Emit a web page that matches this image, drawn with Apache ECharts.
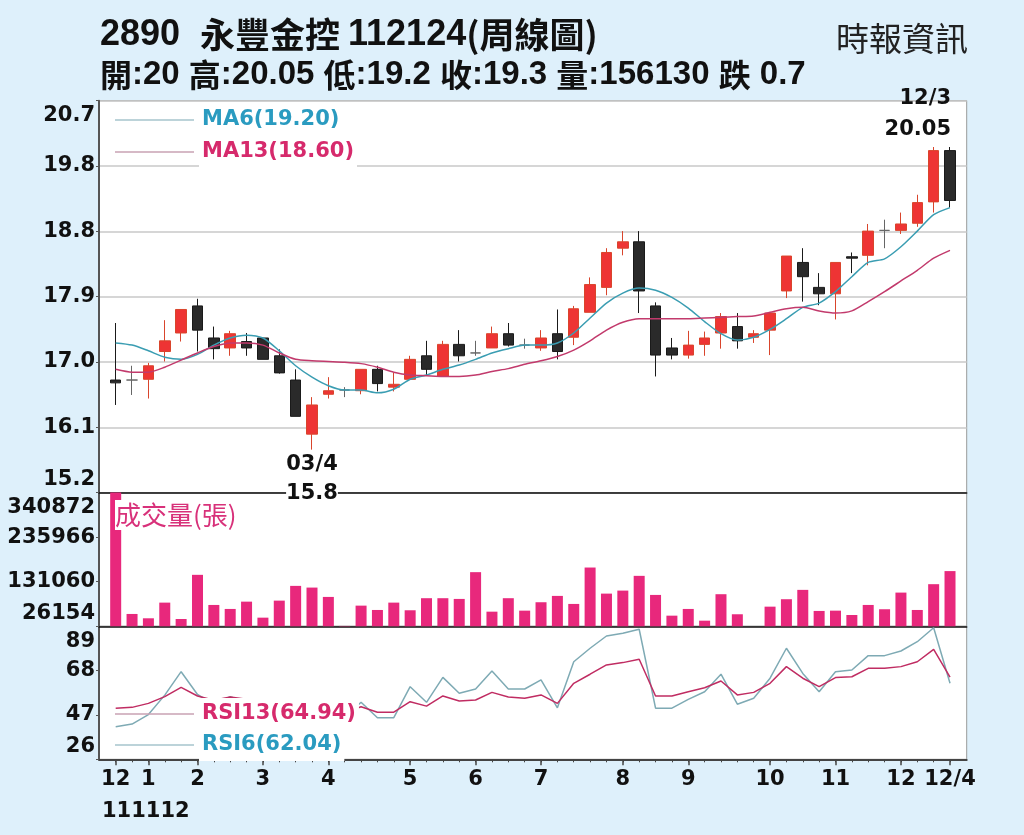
<!DOCTYPE html>
<html><head><meta charset="utf-8">
<script src="https://cdn.jsdelivr.net/npm/echarts@6/dist/echarts.min.js"></script>
<style>html,body{margin:0;padding:0;background:#def0fb;}#c{width:1024px;height:835px;}</style>
</head><body><div id="c"></div>
<script>
// ---- data (weekly bars, index 0 = first week shown) ----
const ohlc = [ // [open, close, low, high]
[16.78,16.74,16.43,17.58],[16.78,16.78,16.57,16.98],[16.79,16.98,16.52,17.02],[17.18,17.33,17.04,17.62],
[17.44,17.77,17.32,17.77],[17.82,17.48,17.18,17.92],[17.37,17.22,17.07,17.53],[17.23,17.43,17.12,17.47],
[17.32,17.23,17.12,17.44],[17.37,17.07,17.07,17.38],[17.12,16.88,16.87,17.21],[16.78,16.27,16.27,16.93],
[16.02,16.43,15.80,16.54],[16.58,16.63,16.52,16.82],[16.64,16.64,16.54,16.68],[16.63,16.93,16.58,16.93],
[16.93,16.73,16.62,16.98],[16.68,16.72,16.62,16.88],[16.79,17.07,16.79,17.12],[17.12,16.93,16.84,17.33],
[16.83,17.28,16.83,17.33],[17.28,17.12,17.04,17.48],[17.16,17.16,17.12,17.33],[17.23,17.43,17.23,17.53],
[17.43,17.27,17.25,17.58],[17.27,17.27,17.22,17.36],[17.23,17.37,17.19,17.48],[17.43,17.18,17.07,17.77],
[17.38,17.78,17.27,17.82],[17.73,18.12,17.73,18.22],[18.08,18.57,17.97,18.63],[18.63,18.72,18.53,18.87],
[18.72,18.03,17.72,18.87],[17.82,17.13,16.83,17.87],[17.23,17.13,17.07,17.37],[17.13,17.27,17.08,17.47],
[17.28,17.37,17.12,17.46],[17.44,17.67,17.22,17.72],[17.53,17.33,17.22,17.72],[17.38,17.43,17.30,17.48],
[17.48,17.72,17.13,17.72],[18.03,18.52,17.93,18.52],[18.43,18.23,17.88,18.63],[18.08,17.99,17.83,18.28],
[17.99,18.43,17.63,18.43],[18.51,18.49,18.28,18.57],[18.53,18.87,18.39,18.97],[18.88,18.88,18.63,19.03],
[18.88,18.97,18.83,19.13],[18.98,19.27,18.93,19.38],[19.28,20.00,19.13,20.05],[20.00,19.30,19.20,20.05]
];
const ma6 = [17.30,17.27,17.19,17.10,17.07,17.14,17.27,17.37,17.41,17.37,
17.19,16.98,16.82,16.70,16.64,16.64,16.60,16.65,16.79,16.85,
16.93,16.99,17.07,17.16,17.22,17.27,17.27,17.30,17.44,17.65,
17.86,18.00,18.07,18.04,17.94,17.79,17.60,17.43,17.34,17.38,
17.49,17.64,17.80,17.86,18.02,18.23,18.43,18.48,18.65,18.87,
19.10,19.20];
const ma13 = [16.93,16.89,16.89,16.96,17.06,17.16,17.25,17.30,17.30,17.27,
17.16,17.07,17.05,17.04,17.03,17.01,16.96,16.89,16.85,16.84,
16.83,16.83,16.85,16.90,16.94,17.00,17.05,17.11,17.20,17.33,
17.48,17.59,17.64,17.64,17.64,17.64,17.65,17.66,17.67,17.68,
17.73,17.78,17.80,17.75,17.72,17.75,17.88,18.02,18.17,18.32,
18.49,18.60];
const volume = [340872,55200,45000,81900,43400,147300,76400,67000,84200,46500,
86600,121300,117300,95300,27000,74800,64600,81900,63900,92300,
92300,90600,153600,60600,92300,63000,82800,97700,78800,164500,
103100,110200,144900,100000,51200,67000,39400,101700,54500,26154,
72400,89900,111900,62300,63000,52800,76400,66300,105500,64600,
125300,156130];
const rsi6 = [41.4,42.7,47.2,56.4,67.5,56.7,52.0,55.7,53.0,50.0,
44.0,36.0,40.0,44.0,46.0,53.0,45.7,45.7,60.4,53.0,
64.8,57.3,59.3,67.8,59.3,59.3,63.6,50.4,72.2,78.6,
84.4,85.7,87.6,50.2,50.2,54.4,58.0,66.3,52.1,54.9,
64.4,78.6,66.7,58.0,67.5,68.3,75.1,75.1,77.3,81.7,
88.3,62.04];
const rsi13 = [50.2,50.6,52.5,55.7,60.1,56.0,54.0,55.5,54.5,52.0,
49.0,45.0,46.5,47.5,48.0,50.9,48.3,48.3,53.3,51.2,
56.0,53.6,54.1,57.7,55.5,54.9,56.5,52.5,62.0,66.3,
70.7,71.8,73.4,56.0,56.0,58.0,59.9,63.1,56.5,57.7,
62.0,69.9,64.4,60.4,64.7,65.1,69.1,69.1,69.9,72.2,
78.1,64.94];
const monthTickIdx = [0,2,5,9,13,18,22,26,31,35,40,44,48,51];
const monthTickLabels = ['12','1','2','3','4','5','6','7','8','9','10','11','12','12/4'];
const priceTickLabels = ['15.2','16.1','17.0','17.9','18.8','19.8','20.7'];
const volTickLabels = ['26154','131060','235966','340872'];
const rsiTickLabels = ['26','47','68','89'];
const annotations = [ // [week index, price, date text, side]
  [51, 20.05, '12/3', 'top'],
  [12, 15.80, '03/4', 'bottom']
];

// ---- derived for library ----
const allIdx = ohlc.map((d,i)=>i);
const candleData = ohlc.map((d,i)=>[i, d[0], d[1], d[2], d[3]]);
const pair = arr => arr.map((v,i)=>[i, v]);
const ma6Name = 'MA6(' + ma6[ma6.length-1].toFixed(2) + ')';
const ma13Name = 'MA13(' + ma13[ma13.length-1].toFixed(2) + ')';
const rsi6Name = 'RSI6(' + rsi6[rsi6.length-1].toFixed(2) + ')';
const rsi13Name = 'RSI13(' + rsi13[rsi13.length-1].toFixed(2) + ')';

const X_MIN = -1.02, X_MAX = 52.02;
const FONT = 'DejaVu Sans';
const lbl = {fontFamily: FONT, fontWeight: 'bold', fontSize: 21, color: '#111'};
const gridBase = {left: 99, right: 57.3, show: true, backgroundColor: '#fff', borderColor: '#9a9a9a', borderWidth: 1};

function labelAxis(grid, max, labels, split) {
  return {
    gridIndex: grid, type: 'value', min: 0, max: max, interval: 1, position: 'left',
    axisLine: {show: true, onZero: false, lineStyle: {color: '#555', width: 2}},
    axisTick: {show: true, length: 3, lineStyle: {color: '#555'}},
    splitLine: {show: split, lineStyle: {color: '#c8c8c8', width: 1.5}},
    axisLabel: Object.assign({}, lbl, {
      margin: 4, lineHeight: 20, padding: [5, 0, 3, 0],
      showMinLabel: true, showMaxLabel: true, hideOverlap: false,
      verticalAlignMinLabel: 'bottom', verticalAlignMaxLabel: 'top',
      formatter: v => labels[v]
    })
  };
}
function dataAxis(grid, min, max) {
  return {gridIndex: grid, type: 'value', min: min, max: max, show: false, axisLine: {onZero: false}, splitLine: {show: false}};
}
function plainX(grid, color, width) {
  return {gridIndex: grid, type: 'value', position: 'bottom', min: X_MIN, max: X_MAX,
    axisLine: {show: true, onZero: false, lineStyle: {color: color, width: width}},
    axisTick: {show: false}, axisLabel: {show: false}, splitLine: {show: false}};
}

const legendText = {fontFamily: FONT, fontWeight: 'bold', fontSize: 21, lineHeight: 25, backgroundColor: '#fff', padding: [3, 3, 4, 3]};

const option = {
  backgroundColor: '#def0fb',
  animation: false,
  title: [
    {left: 100, top: 15, padding: 0,
     text: '{n|2890  }{c|永豐金控 }{n|112124}{c|(周線圖)}',
     textStyle: {rich: {
       n: {fontFamily: 'Liberation Sans', fontWeight: 'bold', fontSize: 36, color: '#111', lineHeight: 40},
       c: {fontFamily: 'Noto Sans CJK TC', fontSize: 35, color: '#111', lineHeight: 40}}}},
    {left: 100, top: 55, padding: 0,
     text: '{c|開}{n|:20 }{c|高}{n|:20.05 }{c|低}{n|:19.2 }{c|收}{n|:19.3 }{c|量}{n|:156130 }{c|跌}{n| 0.7}',
     textStyle: {rich: {
       n: {fontFamily: 'Liberation Sans', fontWeight: 'bold', fontSize: 33, color: '#111', lineHeight: 40},
       c: {fontFamily: 'Noto Sans CJK TC', fontSize: 32, color: '#111', lineHeight: 40}}}},
    {right: 56, top: 18, padding: 0, text: '時報資訊',
     textStyle: {fontFamily: 'Noto Sans CJK TC', fontSize: 33, fontWeight: 'normal', color: '#222', lineHeight: 40}},
    {left: 115, top: 500, padding: [0, 2, 0, 0], backgroundColor: '#fff', text: '成交量(張)',
     textStyle: {fontFamily: 'Noto Sans CJK TC', fontSize: 26, fontWeight: 'normal', color: '#d8317a', lineHeight: 30}}
  ],
  legend: [
    {orient: 'vertical', left: 115, top: 104, padding: 0, itemGap: 0, icon: 'rect', itemWidth: 79, itemHeight: 1.5,
     selectedMode: false, textStyle: legendText,
     data: [{name: ma6Name, itemStyle: {color: '#a6c4cc'}, textStyle: {color: '#2a9bc0'}},
            {name: ma13Name, itemStyle: {color: '#c9a2b3'}, textStyle: {color: '#d62a6c'}}]},
    {orient: 'vertical', left: 115, top: 698, padding: 0, itemGap: -1, icon: 'rect', itemWidth: 79, itemHeight: 1.5,
     selectedMode: false, textStyle: legendText,
     data: [{name: rsi13Name, itemStyle: {color: '#c9a2b3'}, textStyle: {color: '#d62a6c'}},
            {name: rsi6Name, itemStyle: {color: '#a6c4cc'}, textStyle: {color: '#2a9bc0'}}]}
  ],
  graphic: [
    {type: 'text', left: 102, top: 801, z: 10,
     style: {text: '111112', font: 'bold 21px "DejaVu Sans"', fill: '#111'}}
  ],
  grid: [
    Object.assign({}, gridBase, {top: 100.7, height: 391.9}),
    Object.assign({}, gridBase, {top: 492.6, height: 133.7}),
    Object.assign({}, gridBase, {top: 626.3, height: 133})
  ],
  xAxis: [
    plainX(0, '#111', 1.5),
    plainX(1, '#111', 1.5),
    {gridIndex: 2, type: 'value', position: 'bottom', min: X_MIN, max: X_MAX,
     axisLine: {show: true, onZero: false, lineStyle: {color: '#444', width: 2}},
     axisTick: {show: true, length: 3, customValues: allIdx, lineStyle: {color: '#444'}},
     axisLabel: {show: false}, splitLine: {show: false}},
    {gridIndex: 2, type: 'value', position: 'bottom', offset: 0, min: X_MIN, max: X_MAX,
     axisLine: {show: false, onZero: false},
     axisTick: {show: true, length: 6, customValues: monthTickIdx, lineStyle: {color: '#444', width: 1.5}},
     axisLabel: Object.assign({}, lbl, {margin: 10, lineHeight: 21, customValues: monthTickIdx, hideOverlap: false,
       formatter: v => monthTickLabels[monthTickIdx.indexOf(v)]}),
     splitLine: {show: false}}
  ],
  yAxis: [
    labelAxis(0, 6, priceTickLabels, true),
    dataAxis(0, 15.2, 20.7),
    labelAxis(1, 3, volTickLabels, false),
    dataAxis(1, 26154, 340872),
    labelAxis(2, 3, rsiTickLabels, false),
    dataAxis(2, 26, 89)
  ],
  series: [
    {type: 'candlestick', name: 'K', xAxisIndex: 0, yAxisIndex: 1, data: candleData, barWidth: 11,
     encode: {x: 0, y: [1, 2, 3, 4]},
     itemStyle: {color: '#ee3434', color0: '#2a2a2a', borderColor: '#d9452c', borderColor0: '#1a1a1a',
                 borderColorDoji: '#666', borderWidth: 1}},
    {type: 'line', name: ma6Name, xAxisIndex: 0, yAxisIndex: 1, data: pair(ma6), showSymbol: false, smooth: 0.25,
     lineStyle: {color: '#3a9db2', width: 1.5}, itemStyle: {color: '#3a9db2'}},
    {type: 'line', name: ma13Name, xAxisIndex: 0, yAxisIndex: 1, data: pair(ma13), showSymbol: false, smooth: 0.25,
     lineStyle: {color: '#c23a6c', width: 1.5}, itemStyle: {color: '#c23a6c'}},
    {type: 'bar', name: 'VOL', xAxisIndex: 1, yAxisIndex: 3, data: pair(volume), barWidth: 11,
     itemStyle: {color: '#e8287c'}},
    {type: 'line', name: rsi6Name, xAxisIndex: 2, yAxisIndex: 5, data: pair(rsi6), showSymbol: false,
     lineStyle: {color: '#7eaab4', width: 1.5}, itemStyle: {color: '#7eaab4'}},
    {type: 'line', name: rsi13Name, xAxisIndex: 2, yAxisIndex: 5, data: pair(rsi13), showSymbol: false,
     lineStyle: {color: '#c02c62', width: 1.5}, itemStyle: {color: '#c02c62'}},
    {type: 'scatter', name: 'ann', xAxisIndex: 0, yAxisIndex: 1, clip: false, symbolSize: 0, z: 5,
     silent: true, itemStyle: {color: '#111'},
     data: annotations.map(a => ({
       value: [a[0], a[1]],
       label: {show: true, position: a[3], distance: a[3] === 'top' ? 2 : 0,
               align: a[3] === 'top' ? 'right' : 'center',
               offset: a[3] === 'top' ? [1, 0] : [0, 0],
               backgroundColor: a[3] === 'top' ? 'transparent' : '#fff',
               formatter: a[2] + '\n' + a[1].toString(),
               opacity: 1,
               fontFamily: FONT, fontWeight: 'bold', fontSize: 21, lineHeight: a[3] === 'top' ? 31 : 29, color: '#111'}
     }))}
  ]
};
const chart = echarts.init(document.getElementById('c'));
chart.setOption(option);
</script></body></html>
